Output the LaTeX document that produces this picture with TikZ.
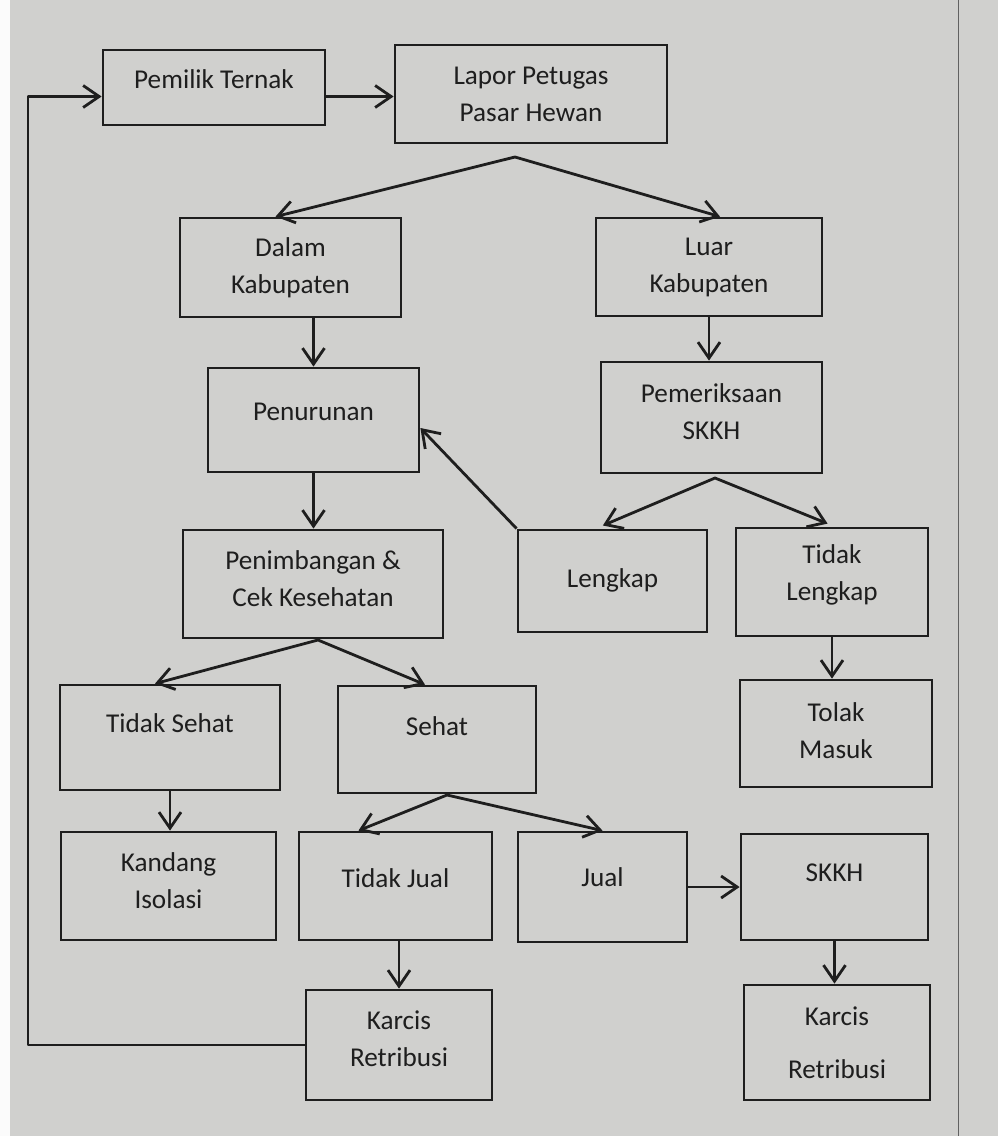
\documentclass[tikz,border=0pt]{standalone}
\usepackage{fontspec}
\setmainfont{Carlito}
\usetikzlibrary{arrows.meta,calc}
\definecolor{paper}{RGB}{208,208,206}
\definecolor{ink}{RGB}{30,30,30}
\begin{document}
\begin{tikzpicture}[x=0.5pt,y=-0.5pt]
	\tikzstyle{box} = [rectangle, draw=ink, line width=1.4pt, align=center, text=ink, font=\fontsize{13.6}{18.5}\selectfont]
	\tikzstyle{arr} = [draw=ink, line width=1.4pt, line join=round, arrows={-Straight Barb[length=8pt,width=11pt]}]

	% paper
	\fill[paper] (0,0) rectangle (998,1136);
	\fill[white!92!paper] (0,0) rectangle (10,1136);
	\useasboundingbox (0,0) rectangle (998,1136);
	\draw[ink!70, line width=0.5pt] (958,0) -- (958,1136);

	\foreach \name/\x/\y/\w/\h/\d/\txt in {
		pemilik/214/87.5/222/75/8/{Pemilik Ternak},
		lapor/531/94/272/98/0/{Lapor Petugas\\Pasar Hewan},
		dalam/290.5/267.5/221/99/2/{Dalam\\Kabupaten},
		luar/709/267/226/98/2/{Luar\\Kabupaten},
		penurunan/313.5/420/211/104/8/{Penurunan},
		periksa/711.5/417.5/221/111/6/{Pemeriksaan\\SKKH},
		timbang/313/584/260/108/5/{Penimbangan \&\\Cek Kesehatan},
		lengkap/612.5/581/189/102/3/{Lengkap},
		tdklengkap/832/582/192/108/9/{Tidak\\Lengkap},
		tdksehat/170/737.5/220/105/14/{Tidak Sehat},
		sehat/437/739.5/198/107/13/{Sehat},
		tolak/836/733.5/192/107/3/{Tolak\\Masuk},
		kandang/168.5/886/215/108/5/{Kandang\\Isolasi},
		tdkjual/395.5/886/193/108/8/{Tidak Jual},
		jual/602.5/887/169/110/10/{Jual},
		skkh/834.5/887/187/106/14/{SKKH},
		karcisa/399/1045/186/110/6/{Karcis\\Retribusi},
		karcisb/837/1042.5/186/115/0/{Karcis\\[8pt]Retribusi}}
		\node[box, minimum width=\w*0.5pt, minimum height=\h*0.5pt, text depth=\d pt] (\name) at (\x,\y) {\txt};

	% split points
	\coordinate (s1) at (515,157);
	\coordinate (s2) at (715,478);
	\coordinate (s3) at (318,640);
	\coordinate (s4) at (447,795);
	\coordinate (back) at (28,1045);

	\draw[arr] ($(pemilik.east)+(0,9)$) -- ($(lapor.west)+(0,2.5)$);
	\draw[arr, arrows={Straight Barb[length=8pt,width=11pt]-Straight Barb[length=8pt,width=11pt]}]
		($(dalam.north)+(-15,0)$) -- (s1) -- ($(luar.north)+(11,0)$);
	\draw[arr] (dalam.south -| penurunan.north) -- (penurunan.north);
	\draw[arr] (luar.south) -- (luar.south |- periksa.north);
	\draw[arr, shorten <=4pt, shorten >=4pt, arrows={Straight Barb[length=8pt,width=11pt]-Straight Barb[length=8pt,width=11pt]}]
		($(lengkap.north)+(-17,0)$) -- (s2) -- ($(tdklengkap.north)+(3,0)$);
	\draw[arr] (lengkap.north west) -- ($(penurunan.east)+(0,8)$);
	\draw[arr] (penurunan.south) -- (penurunan.south |- timbang.north);
	\draw[arr, arrows={Straight Barb[length=8pt,width=11pt]-Straight Barb[length=8pt,width=11pt]}]
		($(tdksehat.north)+(-15,0)$) -- (s3) -- ($(sehat.north)+(-12,0)$);
	\draw[arr] (tdklengkap.south) -- (tdklengkap.south |- tolak.north);
	\draw[arr] (tdksehat.south) -- (tdksehat.south |- kandang.north);
	\draw[arr, arrows={Straight Barb[length=8pt,width=11pt]-Straight Barb[length=8pt,width=11pt]}]
		($(tdkjual.north)+(-37,0)$) -- (s4) -- (jual.north);
	\draw[arr] (jual.east) -- (jual.east -| skkh.west);
	\draw[arr] (tdkjual.south -| karcisa.north) -- (karcisa.north);
	\draw[arr] (skkh.south) -- (skkh.south |- karcisb.north);
	\draw[arr] (karcisa.west) -- (back) |- ($(pemilik.west)+(0,9)$);
\end{tikzpicture}
\end{document}
